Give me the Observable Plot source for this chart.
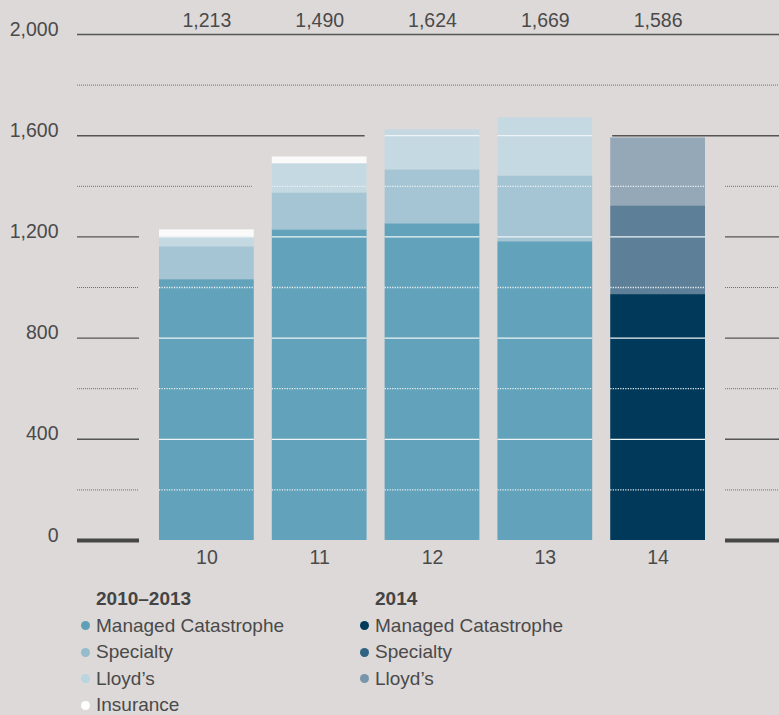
<!DOCTYPE html>
<html><head><meta charset="utf-8">
<script src="https://cdn.jsdelivr.net/npm/d3@7"></script>
<script src="https://cdn.jsdelivr.net/npm/@observablehq/plot@0.6"></script>
<style>
html,body{margin:0;padding:0;}
body{background:#ddd9d8;font-family:"Liberation Sans",Arial,Helvetica,sans-serif;color:#4a4a4a;width:779px;height:715px;overflow:hidden;position:relative}
#chart svg{display:block}
.legend{position:absolute;top:586px;font-size:19px;line-height:26.5px}
.legend .head{font-weight:bold;color:#444}
.legend .row{position:relative;white-space:nowrap}
.legend .dot{position:absolute;left:-15px;top:8.5px;width:9px;height:9px;border-radius:50%}
</style></head>
<body>
<div id="chart"></div>
<div class="legend" id="leg1" style="left:96px"></div>
<div class="legend" id="leg2" style="left:375px"></div>
<script>
const years = ["10","11","12","13","14"];
const totals = [1213,1490,1624,1669,1586];
const managedCatastrophe = [1031,1228,1252,1181,972];
const specialty = [130,146,213,260,351];
const lloyds = [38,115,158,229,268];
const insurance = [29,27,0,0,0];
const segments = ["Managed Catastrophe","Specialty","Lloyd\u2019s","Insurance"];
const colors20102013 = ["#62a2bb","#a5c5d5","#c5d9e3","#fafafa"];
const colors2014 = ["#01395a","#5d8098","#94a8b8"];
const legendDots20102013 = ["#5ea0b8","#94bccd","#b8d5e0","#ffffff"];
const legendDots2014 = ["#003a5a","#2f6381","#7896aa"];
const yTicks = [0,400,800,1200,1600,2000];
const yMinor = [200,600,1000,1400,1800];
const bg = "#ddd9d8";

const series = [managedCatastrophe, specialty, lloyds, insurance];
const rows = [];
const tops = [];
years.forEach((year, i) => {
  let sum = 0;
  series.forEach((arr, k) => {
    const v = arr[i];
    if (v > 0) {
      rows.push({year, segment: segments[k], value: v, color: i === 4 ? colors2014[k] : colors20102013[k]});
      sum += v;
    }
  });
  tops.push({year, top: sum, total: totals[i]});
});
const whiteSolid = [], whiteDotted = [];
tops.forEach(t => {
  yTicks.filter(v => v > 0 && v < t.top).forEach(v => whiteSolid.push({year: t.year, value: v}));
  yMinor.filter(v => v < t.top).forEach(v => whiteDotted.push({year: t.year, value: v}));
});
const fmt = d3.format(",");
const font = '"Liberation Sans",Arial,Helvetica,sans-serif';

const plot = Plot.plot({
  width: 779, height: 580,
  marginLeft: 77, marginRight: 0, marginTop: 34, marginBottom: 40,
  x: {type: "band", domain: years, range: [159, 705], paddingInner: 0.16, paddingOuter: 0, round: false, axis: null},
  y: {domain: [0, 2000], axis: null},
  color: {type: "identity"},
  style: {background: "transparent", fontFamily: font, fontSize: "19.5px", color: "#4a4a4a", overflow: "visible"},
  marks: [
    Plot.ruleY(yMinor, {stroke: "#6e6e6e", strokeWidth: 1, strokeDasharray: "1 1"}),
    Plot.ruleY(yTicks.filter(d => d > 0), {stroke: "#555", strokeWidth: 1.4}),
    Plot.ruleY([0], {stroke: "#474747", strokeWidth: 4}),
    Plot.barY(tops, {x: "year", y: "top", fill: bg, insetLeft: -20, insetRight: -20, insetBottom: -3}),
    Plot.barY(rows, {x: "year", y: "value", z: "segment", fill: "color"}),
    Plot.tickY(whiteDotted, {x: "year", y: "value", stroke: "#eef3f5", strokeWidth: 1.3, strokeDasharray: "1.2 1.3"}),
    Plot.tickY(whiteSolid, {x: "year", y: "value", stroke: "#eef3f5", strokeWidth: 1.3}),
    Plot.text(yTicks, {y: d => d, text: d => fmt(d), frameAnchor: "left", textAnchor: "end", lineAnchor: "bottom", dx: -19, dy: 1, fill: "#4a4a4a", fontSize: 19.5}),
    Plot.text(years, {x: d => d, text: d => d, frameAnchor: "bottom", lineAnchor: "top", dy: 10, fill: "#4a4a4a", fontSize: 19.5}),
    Plot.text(tops, {x: "year", text: d => fmt(d.total), frameAnchor: "top", lineAnchor: "bottom", dy: -8, fill: "#4a4a4a", fontSize: 19.5})
  ]
});
document.getElementById("chart").appendChild(plot);

function legend(el, head, names, cols) {
  let html = `<div class="head">${head}</div>`;
  names.forEach((n, i) => {
    html += `<div class="row"><span class="dot" style="background:${cols[i]}"></span>${n}</div>`;
  });
  document.getElementById(el).innerHTML = html;
}
legend("leg1", "2010\u20132013", segments, legendDots20102013);
legend("leg2", "2014", segments.slice(0, 3), legendDots2014);
</script>
</body></html>
